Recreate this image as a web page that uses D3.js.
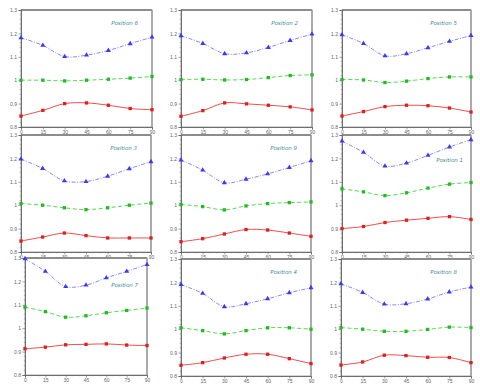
<!DOCTYPE html>
<html>
<head>
<meta charset="utf-8">
<script src="https://cdnjs.cloudflare.com/ajax/libs/d3/7.8.5/d3.min.js"></script>
<style>
body { margin: 0; background: #fff; }
svg { display: block; }
</style>
</head>
<body>
<script>
// chart data
var angles = [0, 15, 30, 45, 60, 75, 90]
var yTicks = [0.8, 0.9, 1, 1.1, 1.2, 1.3]
var yTickLabels = ['0.8', '0.9', '1', '1.1', '1.2', '1.3']
var titles = ['Position 6', 'Position 2', 'Position 5', 'Position 3', 'Position 9', 'Position 1', 'Position 7', 'Position 4', 'Position 8']

var blueSeries = [
	[1.181, 1.149, 1.101, 1.107, 1.127, 1.156, 1.184],
	[1.190, 1.157, 1.113, 1.117, 1.140, 1.170, 1.197],
	[1.194, 1.157, 1.104, 1.113, 1.139, 1.166, 1.191],
	[1.197, 1.157, 1.104, 1.101, 1.124, 1.156, 1.186],
	[1.193, 1.150, 1.096, 1.111, 1.134, 1.161, 1.190],
	[1.274, 1.226, 1.167, 1.180, 1.213, 1.249, 1.280],
	[1.297, 1.243, 1.178, 1.184, 1.215, 1.243, 1.272],
	[1.191, 1.153, 1.096, 1.109, 1.130, 1.156, 1.177],
	[1.194, 1.157, 1.107, 1.109, 1.129, 1.159, 1.180]
]
var greenSeries = [
	[1.000, 1.000, 0.997, 1.000, 1.004, 1.009, 1.016],
	[1.003, 1.004, 1.001, 1.003, 1.011, 1.020, 1.023],
	[1.003, 1.001, 0.990, 0.996, 1.007, 1.014, 1.014],
	[1.007, 1.000, 0.989, 0.981, 0.989, 1.000, 1.009],
	[1.003, 0.994, 0.980, 0.997, 1.007, 1.011, 1.014],
	[1.070, 1.057, 1.041, 1.053, 1.073, 1.090, 1.097],
	[1.090, 1.071, 1.047, 1.053, 1.066, 1.076, 1.086],
	[1.006, 0.994, 0.980, 0.994, 1.006, 1.006, 1.000],
	[1.007, 1.000, 0.991, 0.991, 0.999, 1.009, 1.007]
]
var redSeries = [
	[0.847, 0.871, 0.900, 0.903, 0.893, 0.879, 0.874],
	[0.846, 0.870, 0.903, 0.899, 0.893, 0.886, 0.873],
	[0.847, 0.866, 0.887, 0.893, 0.891, 0.881, 0.864],
	[0.847, 0.864, 0.881, 0.870, 0.860, 0.860, 0.860],
	[0.844, 0.857, 0.877, 0.896, 0.894, 0.881, 0.867],
	[0.900, 0.909, 0.926, 0.936, 0.944, 0.951, 0.939],
	[0.912, 0.919, 0.929, 0.931, 0.933, 0.928, 0.926],
	[0.846, 0.857, 0.877, 0.893, 0.893, 0.874, 0.853],
	[0.847, 0.860, 0.889, 0.887, 0.880, 0.879, 0.857]
]

// panel frames [left, top, right, bottom] in pixels
var frames = [
	[21, 10, 152, 127], [181, 10, 312, 127], [342, 10, 471, 127],
	[21, 135, 151, 252], [181, 135, 311, 252], [342, 135, 471, 252],
	[25, 258, 147, 375], [181, 259, 311, 376], [341, 259, 471, 376]
]
// title anchor (right end, baseline) relative to the frame's top-right
var titleOffsets = [
	[-14, 15], [-14, 15], [-14, 15],
	[-14, 15], [-14, 15], [-8, 27],
	[-9, 29], [-14, 15], [-14, 15]
]

var styles = [
	{color: '#7a7aff', mark: '#3a3aee', dash: '4,1.5,1,1.5', shape: d3.symbolTriangle, size: 11},
	{color: '#45d045', mark: '#22bb22', dash: '4,2.5', shape: d3.symbolSquare, size: 11},
	{color: '#ea3a3a', mark: '#dd2020', dash: null, shape: d3.symbolSquare, size: 11}
]

var svg = d3.select('body').append('svg')
	.attr('width', 480)
	.attr('height', 390)
	.style('font-family', 'DejaVu Sans, sans-serif')

frames.forEach(function(f, i){
	var x = d3.scaleLinear().domain([0, 90]).range([f[0], f[2]])
	var y = d3.scaleLinear().domain([0.8, 1.3]).range([f[3], f[1]])
	var g = svg.append('g').attr('class', 'panel')

	// frame: grey box, thicker top edge, dark axes on left/bottom
	g.append('rect')
		.attr('x', f[0]).attr('y', f[1])
		.attr('width', f[2] - f[0]).attr('height', f[3] - f[1])
		.attr('fill', 'none').attr('stroke', '#a8a8a8').attr('stroke-width', 1)
	g.append('line')
		.attr('x1', f[0]).attr('x2', f[2]).attr('y1', f[1]).attr('y2', f[1])
		.attr('stroke', '#8c8c8c').attr('stroke-width', 2.2)
	g.append('line')
		.attr('x1', f[2]).attr('x2', f[2]).attr('y1', f[1]).attr('y2', f[3])
		.attr('stroke', '#9a9a9a').attr('stroke-width', 1.4)

	// y axis
	var yAxis = d3.axisLeft(y).tickValues(yTicks).tickSize(2.5)
		.tickFormat(function(d, k){ return yTickLabels[k] })
	var ya = g.append('g').attr('transform', 'translate(' + f[0] + ',0)').call(yAxis)
	ya.select('.domain').attr('stroke', '#555').attr('stroke-width', 0.8)
	ya.selectAll('.tick line').attr('stroke', '#666').attr('stroke-width', 0.6)
	ya.selectAll('.tick text').attr('font-size', 5).attr('fill', '#666').attr('x', -4)
	var yMinor = d3.range(0.8, 1.3001, 0.02).filter(function(v){ return Math.abs(v * 10 - Math.round(v * 10)) > 0.01 })
	g.selectAll('.yminor').data(yMinor).enter().append('line')
		.attr('x1', f[0] - 1.3).attr('x2', f[0])
		.attr('y1', function(d){ return y(d) }).attr('y2', function(d){ return y(d) })
		.attr('stroke', '#777').attr('stroke-width', 0.5)

	// x axis
	var xAxis = d3.axisBottom(x).tickValues(angles).tickSize(2.5).tickFormat(d3.format('d'))
	var xa = g.append('g').attr('transform', 'translate(0,' + f[3] + ')').call(xAxis)
	xa.select('.domain').attr('stroke', '#555').attr('stroke-width', 0.8)
	xa.selectAll('.tick line').attr('stroke', '#666').attr('stroke-width', 0.6)
	xa.selectAll('.tick text').attr('font-size', 5).attr('fill', '#666').attr('y', 3.5)
	var xMinor = d3.range(0, 90.1, 5).filter(function(v){ return v % 15 !== 0 })
	g.selectAll('.xminor').data(xMinor).enter().append('line')
		.attr('x1', function(d){ return x(d) }).attr('x2', function(d){ return x(d) })
		.attr('y1', f[3]).attr('y2', f[3] + 1.3)
		.attr('stroke', '#777').attr('stroke-width', 0.5)

	// series
	var series = [blueSeries[i], greenSeries[i], redSeries[i]]
	var line = d3.line()
		.x(function(d, k){ return x(angles[k]) })
		.y(function(d){ return y(d) })
		.curve(d3.curveCatmullRom.alpha(0.5))

	series.forEach(function(vals, s){
		var st = styles[s]
		g.append('path')
			.datum(vals)
			.attr('d', line)
			.attr('fill', 'none')
			.attr('stroke', st.color)
			.attr('stroke-width', 0.9)
			.attr('stroke-dasharray', st.dash)
		g.selectAll('.mk' + s).data(vals).enter().append('path')
			.attr('class', 'mk' + s)
			.attr('d', d3.symbol().type(st.shape).size(st.size))
			.attr('transform', function(d, k){ return 'translate(' + x(angles[k]) + ',' + y(d) + ')' })
			.attr('fill', st.mark)
	})

	// title
	g.append('text')
		.attr('x', f[2] + titleOffsets[i][0])
		.attr('y', f[1] + titleOffsets[i][1])
		.attr('text-anchor', 'end')
		.attr('font-size', 5.5)
		.attr('font-style', 'italic')
		.attr('fill', '#3f8a98')
		.text(titles[i])
})
</script>
</body>
</html>
